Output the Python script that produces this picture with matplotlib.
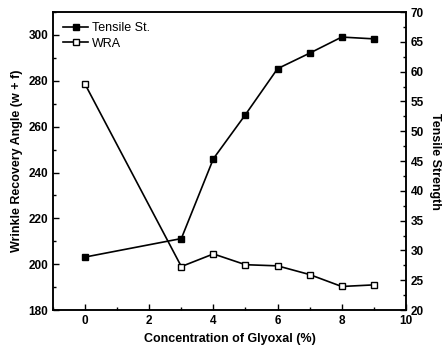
import numpy as np
import matplotlib.pyplot as plt
from matplotlib.ticker import MultipleLocator

plt.rcParams['font.family'] = ['Liberation Sans', 'DejaVu Sans']
plt.rcParams['font.weight'] = 'bold'

conc = [0, 3, 4, 5, 6, 7, 8, 9]
wra = [278.5, 199, 204.5, 199.8, 199.3, 195.5, 190.3, 191]
tensile = [28.9, 32.0, 45.4, 52.8, 60.5, 63.1, 65.8, 65.5]

fig = plt.figure(figsize=(4.47, 3.54), dpi=100)
ax = fig.add_axes([0.1186, 0.124, 0.7894, 0.842])
ax2 = ax.twinx()

l_wra, = ax.plot(conc, wra, color='black', lw=1.2, marker='s', ms=4.8,
                 mfc='white', mec='black', mew=1.0, label='WRA')
l_ts, = ax2.plot(conc, tensile, color='black', lw=1.2, marker='s', ms=4.8,
                 mfc='black', mec='black', label='Tensile St.')

ax.set_xlim(-1, 10)
ax.set_ylim(180, 310)
ax2.set_ylim(20, 70)

ax.xaxis.set_major_locator(MultipleLocator(2))
ax.xaxis.set_minor_locator(MultipleLocator(1))
ax.yaxis.set_major_locator(MultipleLocator(20))
ax.yaxis.set_minor_locator(MultipleLocator(10))
ax2.yaxis.set_major_locator(MultipleLocator(5))
ax2.yaxis.set_minor_locator(MultipleLocator(2.5))

for a in (ax, ax2):
    a.tick_params(which='both', direction='in', labelsize=8.5, width=1.0)
    a.tick_params(which='major', length=4)
    a.tick_params(which='minor', length=2)
    for s in a.spines.values():
        s.set_linewidth(1.1)

ax.set_xlabel('Concentration of Glyoxal (%)', fontsize=9, fontweight='bold')
ax.set_ylabel('Wrinkle Recovery Angle (w + f)', fontsize=9, fontweight='bold')
ax2.set_ylabel('Tensile Strength', fontsize=9, fontweight='bold',
               rotation=270, labelpad=12)

ax.legend([l_ts, l_wra], ['Tensile St.', 'WRA'], loc='upper left',
          frameon=False, handlelength=2.0, handletextpad=0.3,
          borderaxespad=0.4, labelspacing=0.3,
          prop={'weight': 'normal', 'size': 9})

fig.savefig('out.png', dpi=100)
